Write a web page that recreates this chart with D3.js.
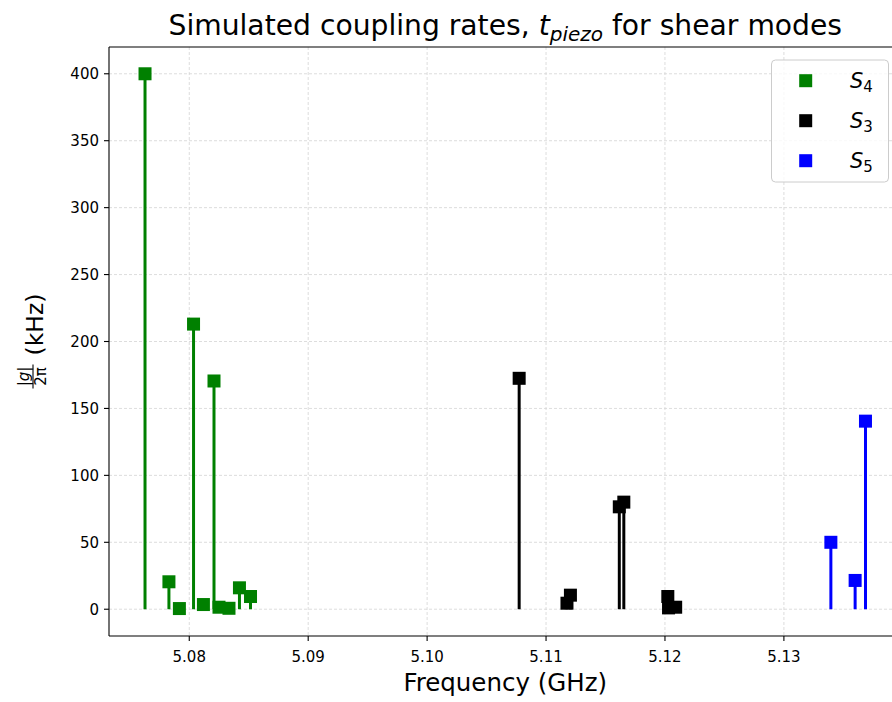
<!DOCTYPE html>
<html><head><meta charset="utf-8">
<script src="https://cdn.jsdelivr.net/npm/d3@7"></script>
<style>body{margin:0;background:#fff;} text{font-family:"DejaVu Sans",sans-serif;fill:#000;}</style>
</head><body><svg id="c" width="892" height="702"></svg>
<script>
// ---- data ----
const s4Freq = [5.07628, 5.07829, 5.07917, 5.08036, 5.08119, 5.08208, 5.08250, 5.08334, 5.08422, 5.08515];
const s4Rate = [400, 20.5, 0.5, 213, 3.5, 170.5, 1.5, 0.7, 16, 9.5];
const s3Freq = [5.10774, 5.11176, 5.11205, 5.11616, 5.11654, 5.12024, 5.12030, 5.12090];
const s3Rate = [172.5, 4.5, 10.5, 76.5, 80, 9.5, 1, 1.5];
const s5Freq = [5.13395, 5.13599, 5.13686];
const s5Rate = [50, 21.5, 140.5];
const seriesNames = ["4", "3", "5"];
const seriesColors = ["#008000", "#000000", "#0000ff"];
const xTicks = [5.08, 5.09, 5.10, 5.11, 5.12, 5.13];
const xTickLabels = ["5.08", "5.09", "5.10", "5.11", "5.12", "5.13"];
const yTicks = [0, 50, 100, 150, 200, 250, 300, 350, 400];

const series = [
  {f: s4Freq, v: s4Rate},
  {f: s3Freq, v: s3Rate},
  {f: s5Freq, v: s5Rate}
];

const svg = d3.select("#c");
const L = 109, R = 901.5, T = 47, B = 636;

const allF = s4Freq.concat(s3Freq, s5Freq);
const allV = s4Rate.concat(s3Rate, s5Rate);
const fMin = d3.min(allF), fMax = d3.max(allF);
const vMin = Math.min(0, d3.min(allV)), vMax = d3.max(allV);
const fPad = (fMax - fMin) * 0.05, vPad = (vMax - vMin) * 0.05;
const x = d3.scaleLinear().domain([fMin - fPad, fMax + fPad]).range([L, R]);
const y = d3.scaleLinear().domain([vMin - vPad, vMax + vPad]).range([B, T]);

// grid
const grid = svg.append("g");
grid.selectAll("line.gx").data(xTicks).enter().append("line")
  .attr("x1", d => x(d)).attr("x2", d => x(d)).attr("y1", T).attr("y2", B)
  .attr("stroke", "#d4d4d4").attr("stroke-width", 0.8).attr("stroke-dasharray", "3,2");
grid.selectAll("line.gy").data(yTicks).enter().append("line")
  .attr("x1", L).attr("x2", R).attr("y1", d => y(d)).attr("y2", d => y(d))
  .attr("stroke", "#d4d4d4").attr("stroke-width", 0.8).attr("stroke-dasharray", "3,2");

// stems
const ms = 13;
series.forEach((s, i) => {
  const g = svg.append("g");
  const pts = s.f.map((f, j) => ({f: f, v: s.v[j]}));
  g.selectAll("line").data(pts).enter().append("line")
    .attr("x1", d => x(d.f)).attr("x2", d => x(d.f))
    .attr("y1", y(0)).attr("y2", d => y(d.v))
    .attr("stroke", seriesColors[i]).attr("stroke-width", 3);
  g.selectAll("rect").data(pts).enter().append("rect")
    .attr("x", d => x(d.f) - ms / 2).attr("y", d => y(d.v) - ms / 2)
    .attr("width", ms).attr("height", ms)
    .attr("fill", seriesColors[i]);
});

// axes frame
const ax = svg.append("g");
ax.append("line").attr("x1", L).attr("x2", L).attr("y1", T).attr("y2", B).attr("stroke", "#000").attr("stroke-width", 1.1);
ax.append("line").attr("x1", L).attr("x2", R).attr("y1", B).attr("y2", B).attr("stroke", "#000").attr("stroke-width", 1.1);
ax.append("line").attr("x1", L).attr("x2", R).attr("y1", T).attr("y2", T).attr("stroke", "#000").attr("stroke-width", 1.1);
ax.append("line").attr("x1", R).attr("x2", R).attr("y1", T).attr("y2", B).attr("stroke", "#000").attr("stroke-width", 1.1);

// x ticks
xTicks.forEach((t, i) => {
  ax.append("line").attr("x1", x(t)).attr("x2", x(t)).attr("y1", B).attr("y2", B + 5).attr("stroke", "#000").attr("stroke-width", 1.1);
  ax.append("text").attr("x", x(t)).attr("y", B + 26).attr("text-anchor", "middle")
    .attr("font-size", 15).text(xTickLabels[i]);
});
// y ticks
yTicks.forEach(t => {
  ax.append("line").attr("x1", L - 5).attr("x2", L).attr("y1", y(t)).attr("y2", y(t)).attr("stroke", "#000").attr("stroke-width", 1.1);
  ax.append("text").attr("x", L - 10).attr("y", y(t) + 5.5).attr("text-anchor", "end")
    .attr("font-size", 15).text(t);
});

// title
const title = svg.append("text").attr("x", (L + R) / 2).attr("y", 35).attr("text-anchor", "middle").attr("font-size", 28.2);
title.append("tspan").text("Simulated coupling rates, ");
title.append("tspan").attr("font-style", "italic").text("t");
title.append("tspan").attr("font-style", "italic").attr("font-size", 20).attr("dy", 6).text("piezo");
title.append("tspan").attr("dy", -6).text(" for shear modes");

// x label
svg.append("text").attr("x", (L + R) / 2).attr("y", 691).attr("text-anchor", "middle").attr("font-size", 24.5).text("Frequency (GHz)");

// y label
const yl = svg.append("g").attr("transform", `translate(0,${(T + B) / 2}) rotate(-90)`);
yl.append("text").attr("x", -14).attr("y", 43).attr("font-size", 23.5).text("(kHz)");
yl.append("text").attr("x", -35).attr("y", 29).attr("text-anchor", "middle").attr("font-size", 15).attr("font-style", "italic").text("|g|");
yl.append("line").attr("x1", -47).attr("x2", -23).attr("y1", 33).attr("y2", 33).attr("stroke", "#000").attr("stroke-width", 1.1);
yl.append("text").attr("x", -35).attr("y", 45.5).attr("text-anchor", "middle").attr("font-size", 15).text("2π");

// legend
const lg = svg.append("g");
lg.append("rect").attr("x", 771.5).attr("y", 60).attr("width", 117).attr("height", 122).attr("rx", 4)
  .attr("fill", "#fff").attr("fill-opacity", 0.8).attr("stroke", "#cccccc").attr("stroke-width", 1);
seriesNames.forEach((n, i) => {
  const cy = 80.7 + i * 40;
  lg.append("rect").attr("x", 805.7 - 6.5).attr("y", cy - 6.5).attr("width", 13).attr("height", 13).attr("fill", seriesColors[i]);
  const t = lg.append("text").attr("x", 850).attr("y", cy + 7.5).attr("font-size", 21);
  t.append("tspan").attr("font-style", "italic").text("S");
  t.append("tspan").attr("font-size", 15).attr("dy", 4).text(n);
});
</script></body></html>
